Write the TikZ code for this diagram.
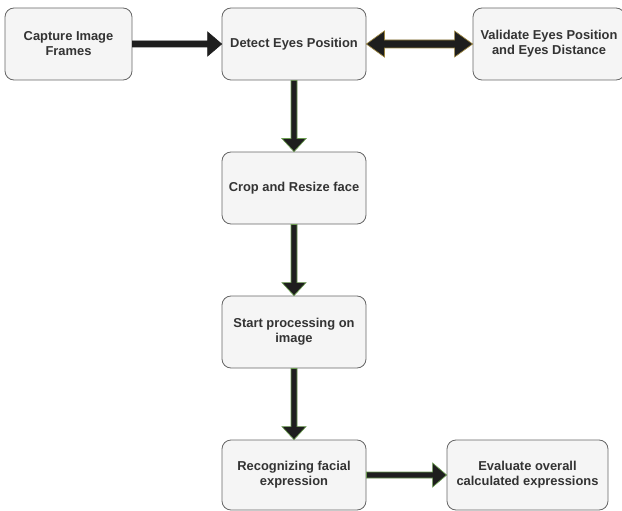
\documentclass[tikz,border=0pt]{standalone}
\usepackage{fontspec}
\setmainfont{Liberation Sans}
\usetikzlibrary{calc}
\definecolor{boxfill}{HTML}{F5F5F5}
\definecolor{boxline}{HTML}{666666}
\definecolor{txt}{HTML}{333333}
\definecolor{shaft}{HTML}{1E1E1E}
\definecolor{greenline}{HTML}{6A9A50}
\definecolor{goldline}{HTML}{9A8440}
\tikzset{
  box/.style={draw=boxline, line width=0.8pt, fill=boxfill, rounded corners=9pt,
    minimum height=72pt, align=center, text=txt, inner sep=2pt,
    font=\fontsize{12.9}{15}\selectfont\bfseries},
  fat/.style={fill=shaft, draw=#1, line width=0.7pt, line join=miter},
}
\newcommand\rarrow[3]{% start, end, outline
  \path[fat=#3] let \p1=(#1), \p2=(#2) in
    (\x1,\y1+3pt) -- (\x2-14pt,\y1+3pt) -- (\x2-14pt,\y1+12pt) -- (\x2,\y1)
    -- (\x2-14pt,\y1-12pt) -- (\x2-14pt,\y1-3pt) -- (\x1,\y1-3pt) -- cycle;}
\newcommand\darrow[3]{% start, end, outline
  \path[fat=#3] let \p1=(#1), \p2=(#2) in
    (\x1-3pt,\y1) -- (\x1-3pt,\y2+13pt) -- (\x1-12pt,\y2+13pt) -- (\x1,\y2)
    -- (\x1+12pt,\y2+13pt) -- (\x1+3pt,\y2+13pt) -- (\x1+3pt,\y1) -- cycle;}
\newcommand\lrarrow[3]{% start, end, outline
  \path[fat=#3] let \p1=(#1), \p2=(#2) in
    (\x1,\y1) -- (\x1+18pt,\y1+13pt) -- (\x1+18pt,\y1+4pt) -- (\x2-18pt,\y1+4pt)
    -- (\x2-18pt,\y1+13pt) -- (\x2,\y1) -- (\x2-18pt,\y1-13pt) -- (\x2-18pt,\y1-4pt)
    -- (\x1+18pt,\y1-4pt) -- (\x1+18pt,\y1-13pt) -- cycle;}
\begin{document}
\begin{tikzpicture}[x=1pt,y=1pt]
\useasboundingbox (0,0) rectangle (622,-511);
\node[box, minimum width=127pt] (cap) at (68.5,-44) {Capture Image\\Frames};
\node[box, minimum width=144pt] (det) at (294,-44) {Detect Eyes Position};
\node[box, minimum width=152pt] (val) at (549,-44) {Validate Eyes Position\\and Eyes Distance};
\node[box, minimum width=144pt] (crop) at (294,-188) {Crop and Resize face};
\node[box, minimum width=144pt] (start) at (294,-332) {Start processing on\\image};
\node[box, minimum width=144pt, minimum height=70pt] (rec) at (294,-475) {Recognizing facial\\expression};
\node[box, minimum width=161pt, minimum height=70pt] (eval) at (527.5,-475) {Evaluate overall\\calculated expressions};
\rarrow{cap.east}{det.west}{shaft}
\lrarrow{det.east}{val.west}{goldline}
\darrow{det.south}{crop.north}{greenline}
\darrow{crop.south}{start.north}{greenline}
\darrow{start.south}{rec.north}{greenline}
\rarrow{rec.east}{eval.west}{greenline}
\end{tikzpicture}
\end{document}
